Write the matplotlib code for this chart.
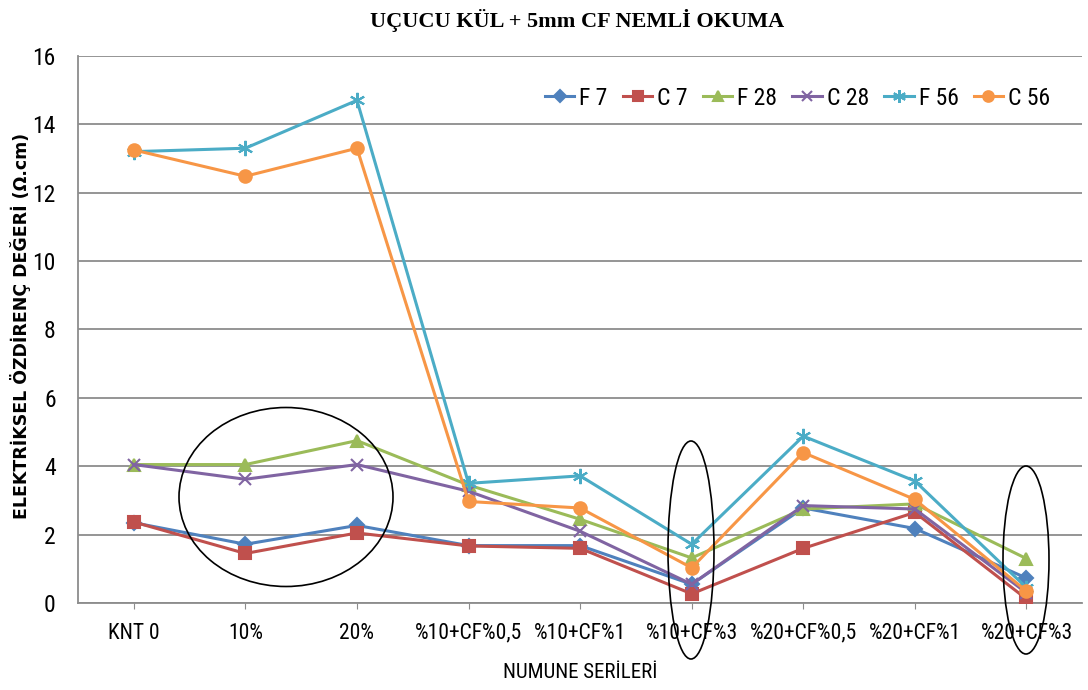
import matplotlib
matplotlib.use("Agg")
import matplotlib.pyplot as plt
from matplotlib.patches import Ellipse

categories = ["KNT 0", "10%", "20%", "%10+CF%0,5", "%10+CF%1", "%10+CF%3",
              "%20+CF%0,5", "%20+CF%1", "%20+CF%3"]

f7 = [2.35, 1.72, 2.27, 1.68, 1.68, 0.55, 2.78, 2.18, 0.73]
c7 = [2.37, 1.45, 2.05, 1.67, 1.60, 0.27, 1.60, 2.65, 0.12]
f28 = [4.05, 4.05, 4.75, 3.45, 2.45, 1.32, 2.75, 2.90, 1.30]
c28 = [4.05, 3.62, 4.05, 3.27, 2.10, 0.55, 2.85, 2.75, 0.30]
f56 = [13.20, 13.30, 14.70, 3.50, 3.72, 1.72, 4.88, 3.57, 0.45]
c56 = [13.25, 12.48, 13.30, 2.97, 2.78, 1.03, 4.40, 3.03, 0.35]

series = [
    ("F 7", f7, "#4F81BD", "D", 7),
    ("C 7", c7, "#C0504D", "s", 8),
    ("F 28", f28, "#9BBB59", "^", 9),
    ("C 28", c28, "#8064A2", "x", 9),
    ("F 56", f56, "#4BACC6", (6, 2, 0), 11),
    ("C 56", c56, "#F79646", "o", 9),
]

narrow = ["Liberation Sans Narrow", "Roboto Condensed", "Open Sans Condensed",
          "Noto Sans Condensed", "Roboto", "DejaVu Sans"]

fig = plt.figure(figsize=(10.88, 6.9), dpi=100)
ax = fig.add_axes([0.0717, 0.126, 0.923, 0.793])

x = list(range(len(categories)))
for name, vals, color, marker, ms in series:
    ax.plot(x, vals, color=color, lw=2.2, marker=marker, markersize=ms,
            markeredgecolor=color, markerfacecolor=color,
            markeredgewidth=1.5, label=name, zorder=3)

ax.set_xlim(-0.5, len(categories) - 0.5)
ax.set_ylim(0, 16)
ax.set_yticks(range(0, 17, 2))
ax.set_xticks(x)
ax.set_xticklabels(categories, fontfamily=narrow, fontsize=15.5)
for lab in ax.get_yticklabels():
    lab.set_fontfamily(narrow)
    lab.set_fontsize(17)

ax.grid(axis="y", color="#8c8c8c", lw=1.3, zorder=0)
for side in ["top", "right"]:
    ax.spines[side].set_visible(False)
for side in ["bottom", "left"]:
    ax.spines[side].set_color("#8c8c8c")
    ax.spines[side].set_linewidth(1.3)
ax.tick_params(axis="y", length=0, pad=16)
ax.tick_params(axis="x", length=4, color="#8c8c8c", pad=10)

ax.set_xlabel("NUMUNE SERİLERİ", fontfamily=narrow, fontsize=15, labelpad=14)
ax.set_ylabel("ELEKTRİKSEL ÖZDİRENÇ DEĞERİ (Ω.cm)", fontfamily=["DejaVu Sans"],
              fontsize=12.5, fontweight="bold")
ax.yaxis.set_label_coords(-0.047, 0.506)

fig.text(0.53, 0.97, "UÇUCU KÜL + 5mm CF NEMLİ OKUMA",
         fontfamily=["Liberation Serif", "DejaVu Serif"], fontweight="bold",
         fontsize=16, ha="center", va="center")

leg = ax.legend(loc="upper right", bbox_to_anchor=(0.968, 0.944), ncol=6,
                frameon=False, prop={"family": narrow, "size": 17},
                handlelength=1.25, handletextpad=0.2, columnspacing=0.65,
                borderpad=0, borderaxespad=0, markerscale=0.85)

# highlight ellipses in figure pixel space, allowed to spill past the axes
def px_ellipse(cx, cy, w, h):
    e = Ellipse((cx / 1088, 1 - cy / 690), w / 1088, h / 690,
                transform=fig.transFigure, fill=False, edgecolor="black",
                lw=1.2, clip_on=False, zorder=5)
    fig.add_artist(e)

px_ellipse(286, 497, 214, 179)
px_ellipse(691, 550, 46, 218)
px_ellipse(1026, 560, 46, 188)

fig.savefig("out.png", dpi=100)
